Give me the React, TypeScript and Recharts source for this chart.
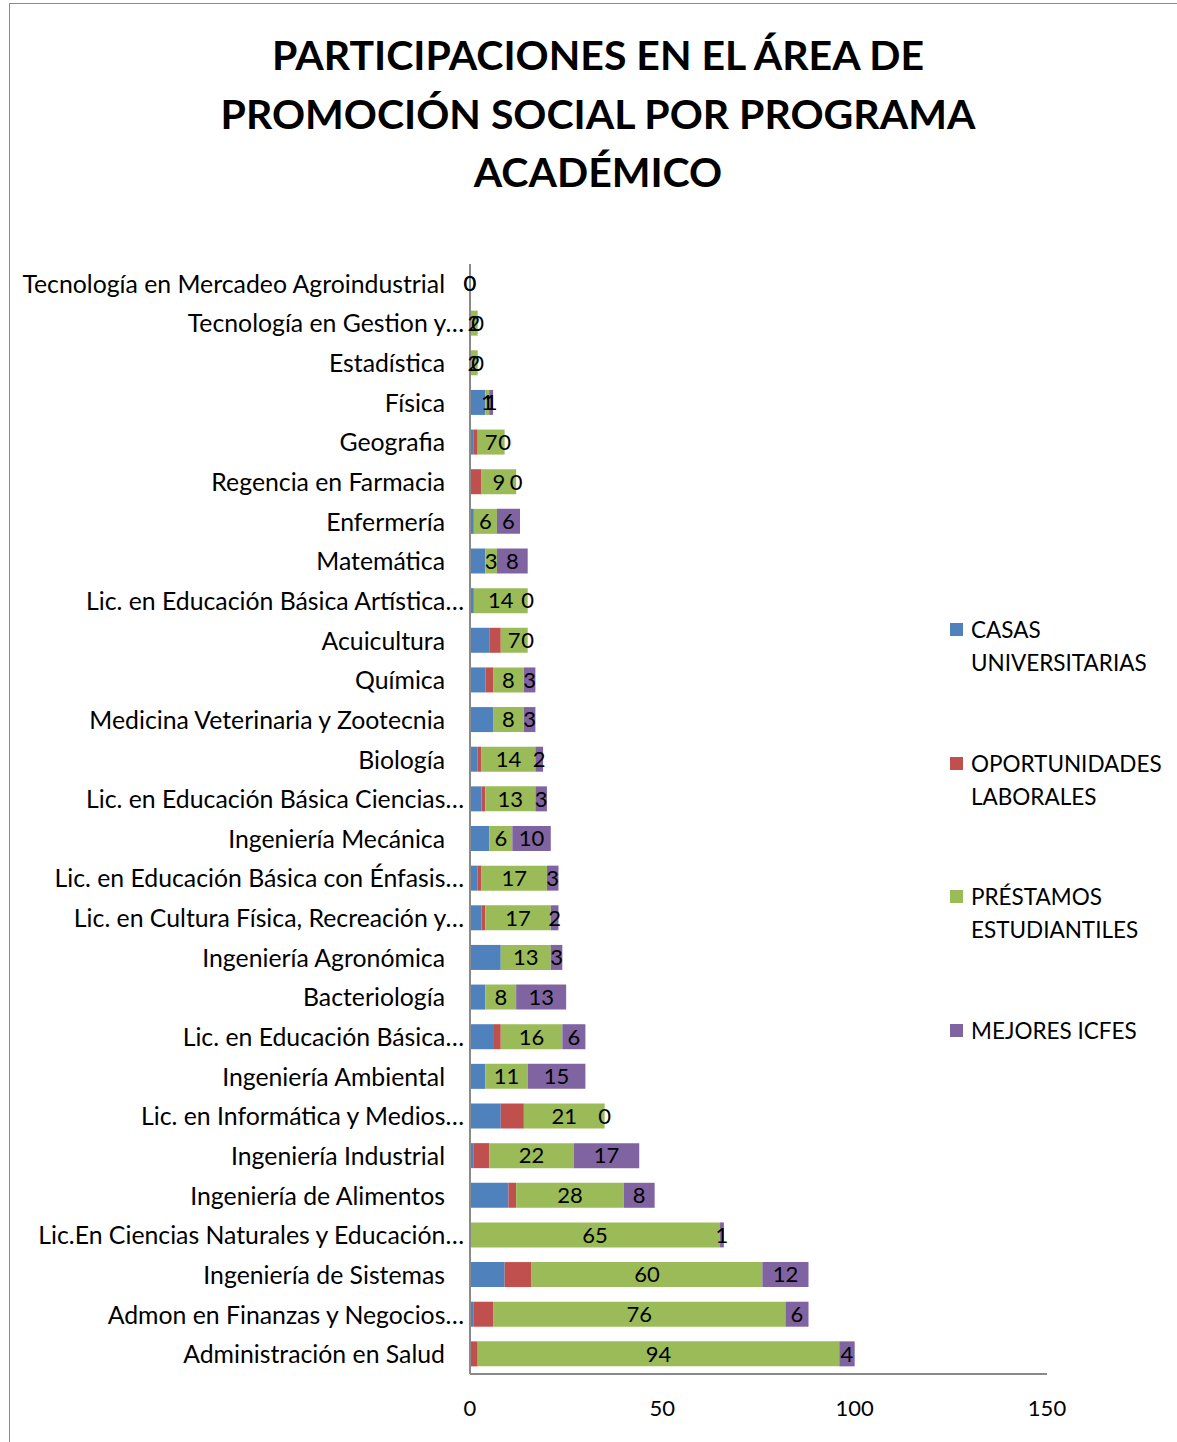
import React from 'react';
import { BarChart, Bar, XAxis, YAxis, LabelList } from 'recharts';

const categories = [
  'Tecnología en Mercadeo Agroindustrial',
  'Tecnología en Gestion y…',
  'Estadística',
  'Física',
  'Geografia',
  'Regencia en Farmacia',
  'Enfermería',
  'Matemática',
  'Lic. en Educación Básica Artística…',
  'Acuicultura',
  'Química',
  'Medicina Veterinaria y Zootecnia',
  'Biología',
  'Lic. en Educación Básica Ciencias…',
  'Ingeniería Mecánica',
  'Lic. en Educación Básica con Énfasis…',
  'Lic. en Cultura Física, Recreación y…',
  'Ingeniería Agronómica',
  'Bacteriología',
  'Lic. en Educación Básica…',
  'Ingeniería Ambiental',
  'Lic. en Informática y Medios…',
  'Ingeniería Industrial',
  'Ingeniería de Alimentos',
  'Lic.En Ciencias Naturales y Educación…',
  'Ingeniería de Sistemas',
  'Admon en Finanzas y Negocios…',
  'Administración en Salud',
];

const casas = [0, 0, 0, 4, 1, 0, 1, 4, 1, 5, 4, 6, 2, 3, 5, 2, 3, 8, 4, 6, 4, 8, 1, 10, 0, 9, 1, 0];
const oportunidades = [0, 0, 0, 0, 1, 3, 0, 0, 0, 3, 2, 0, 1, 1, 0, 1, 1, 0, 0, 2, 0, 6, 4, 2, 0, 7, 5, 2];
const prestamos = [0, 2, 2, 1, 7, 9, 6, 3, 14, 7, 8, 8, 14, 13, 6, 17, 17, 13, 8, 16, 11, 21, 22, 28, 65, 60, 76, 94];
const mejores = [0, 0, 0, 1, 0, 0, 6, 8, 0, 0, 3, 3, 2, 3, 10, 3, 2, 3, 13, 6, 15, 0, 17, 8, 1, 12, 6, 4];

const xTicks = [0, 50, 100, 150];

const series = [
  { key: 'casas', name: 'CASAS UNIVERSITARIAS', color: '#4F81BD', values: casas, labelled: false },
  { key: 'oportunidades', name: 'OPORTUNIDADES LABORALES', color: '#C0504D', values: oportunidades, labelled: false },
  { key: 'prestamos', name: 'PRÉSTAMOS ESTUDIANTILES', color: '#9BBB59', values: prestamos, labelled: true },
  { key: 'mejores', name: 'MEJORES ICFES', color: '#8064A2', values: mejores, labelled: true },
];

const data = categories.map((name, i) => ({
  name,
  casas: casas[i],
  oportunidades: oportunidades[i],
  prestamos: prestamos[i],
  mejores: mejores[i],
}));

const FONT = 'Lato, "Open Sans", sans-serif';

function CategoryTick({ x, y, payload }: any) {
  const truncated = String(payload.value).endsWith('…');
  return (
    <text
      x={x - (truncated ? 6 : 25)}
      y={y}
      dy={9}
      textAnchor="end"
      fontSize={24.8}
      fontFamily={FONT}
      fill="#000"
    >
      {payload.value}
    </text>
  );
}

// zero segments still get a hair-thin bar so their "0" label is drawn, like the original
const zeroSize = (values: number[]) => (_v: any, i: number) => (values[i] === 0 ? 0.01 : 0);

export default function App() {
  return (
    <div style={{ position: 'relative', width: 1177, height: 1442, background: '#fff', overflow: 'hidden' }}>
      <style>{'body{margin:0;}'}</style>
      <div
        style={{
          position: 'absolute',
          left: 9,
          top: 3,
          width: 1200,
          height: 1500,
          borderTop: '1.5px solid #8a8a8a',
          borderLeft: '1.5px solid #8a8a8a',
        }}
      />
      <div
        style={{
          position: 'absolute',
          left: 0,
          width: 1196,
          top: 26,
          textAlign: 'center',
          fontFamily: FONT,
          fontWeight: 700,
          fontSize: 41,
          lineHeight: '58.5px',
          color: '#000',
        }}
      >
        PARTICIPACIONES EN EL ÁREA DE
        <br />
        PROMOCIÓN SOCIAL POR PROGRAMA
        <br />
        ACADÉMICO
      </div>
      <div style={{ position: 'absolute', left: 0, top: 0 }}>
        <BarChart
          width={1177}
          height={1442}
          data={data}
          layout="vertical"
          margin={{ top: 264, right: 130, bottom: 38, left: 0 }}
          barSize={25}
        >
          <XAxis
            type="number"
            domain={[0, 150]}
            ticks={xTicks}
            interval={0}
            tickLine={false}
            tickMargin={20}
            axisLine={{ stroke: '#8a8a8a', strokeWidth: 2 }}
            tick={{ fontSize: 22, fontFamily: FONT, fill: '#000' }}
            height={30}
          />
          <YAxis
            type="category"
            dataKey="name"
            width={470}
            interval={0}
            tickLine={false}
            tickSize={0}
            tickMargin={0}
            axisLine={{ stroke: '#8a8a8a', strokeWidth: 2 }}
            tick={<CategoryTick />}
          />
          {series.map((s) => (
            <Bar
              key={s.key}
              dataKey={s.key}
              name={s.name}
              stackId="a"
              fill={s.color}
              minPointSize={s.labelled ? zeroSize(s.values) : 0}
              isAnimationActive={false}
            >
              {s.labelled && (
                <LabelList
                  dataKey={s.key}
                  position="center"
                  fontSize={22}
                  fontFamily={FONT}
                  fill="#000"
                />
              )}
            </Bar>
          ))}
        </BarChart>
      </div>
      {series.map((s, i) => (
        <div
          key={s.key}
          style={{
            position: 'absolute',
            left: 950,
            top: 613 + i * 133.5,
            width: 215,
            fontFamily: FONT,
            fontSize: 22.5,
            lineHeight: '33px',
            color: '#000',
          }}
        >
          <div style={{ position: 'absolute', left: 0, top: 10, width: 13, height: 13, background: s.color }} />
          <div style={{ marginLeft: 21, width: 185 }}>{s.name}</div>
        </div>
      ))}
    </div>
  );
}
